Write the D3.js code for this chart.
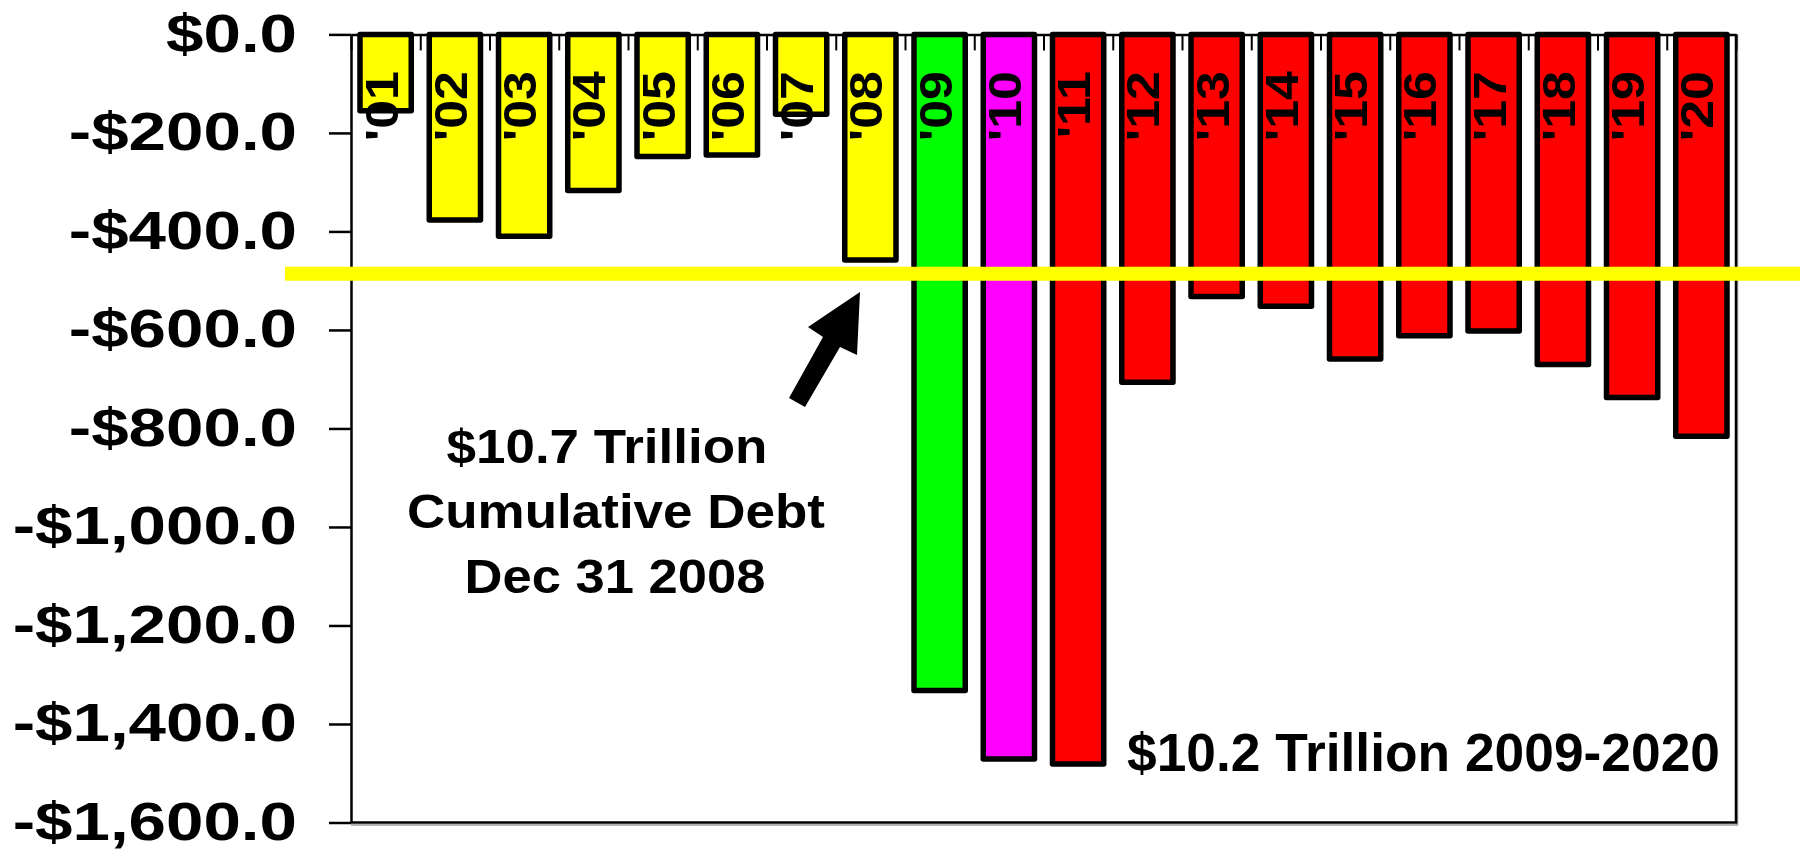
<!DOCTYPE html>
<html>
<head>
<meta charset="utf-8">
<script src="https://cdn.jsdelivr.net/npm/d3@7/dist/d3.min.js"></script>
<style>
  html, body { margin: 0; padding: 0; background: #fff; }
  svg { display: block; }
  text { font-family: "Liberation Sans", Arial, Helvetica, sans-serif; font-weight: bold; fill: #000; }
</style>
</head>
<body>
<svg id="chart" width="1800" height="851"></svg>
<script>
// Yearly increase in federal debt, billions of dollars (negative = added debt)
const years = ["'01", "'02", "'03", "'04", "'05", "'06", "'07", "'08", "'09", "'10",
               "'11", "'12", "'13", "'14", "'15", "'16", "'17", "'18", "'19", "'20"];
const debtIncrease = [-155, -377, -410, -317, -248, -245, -162, -458, -1332, -1471,
                      -1481, -706, -532, -552, -659, -612, -602, -670, -737, -816];
const era = ["pre", "pre", "pre", "pre", "pre", "pre", "pre", "pre", "y2009", "y2010",
             "post", "post", "post", "post", "post", "post", "post", "post", "post", "post"];
const eraNames = ["pre", "y2009", "y2010", "post"];
const eraColors = ["#FFFF00", "#00FF00", "#FF00FF", "#FF0000"];
const yTicks = [0, -200, -400, -600, -800, -1000, -1200, -1400, -1600];
const debtLevelMark = -486;
const noteLines = ["$10.7 Trillion", "Cumulative Debt", "Dec 31 2008"];
const totalNote = "$10.2 Trillion 2009-2020";

const svg = d3.select("#chart");
const plotLeft = 351, plotRight = 1736, plotTop = 34.4, plotBottom = 822.5;

const x = d3.scaleBand().domain(years).range([plotLeft, plotRight]).paddingInner(0.26).paddingOuter(0.13);
const xIdx = d3.scaleLinear().domain([0, years.length]).range([plotLeft, plotRight]);
const y = d3.scaleLinear().domain([0, -1600]).range([plotTop, plotBottom]);
const color = d3.scaleOrdinal().domain(eraNames).range(eraColors);

// frame: right and bottom edges, with a faint grey shadow
svg.append("path")
  .attr("d", `M${plotLeft},${plotBottom + 2.5}H${plotRight + 1.5}V${plotTop}`)
  .attr("fill", "none").attr("stroke", "#9a9a9a").attr("stroke-width", 1.5);
svg.append("path")
  .attr("d", `M${plotLeft},${plotBottom}H${plotRight}V${plotTop}`)
  .attr("fill", "none").attr("stroke", "#000").attr("stroke-width", 2.5);

// y axis
const fmt = v => (v < 0 ? "-" : "") + "$" + d3.format(",.1f")(Math.abs(v));
const yAxis = svg.append("g")
  .attr("transform", `translate(${plotLeft},0)`)
  .call(d3.axisLeft(y).tickValues(yTicks).tickFormat(fmt).tickSize(22).tickSizeOuter(0));
yAxis.select(".domain").attr("stroke-width", 2.5);
yAxis.selectAll(".tick line").attr("stroke-width", 2.5);
yAxis.selectAll(".tick text")
  .attr("x", null).attr("dy", "0.32em")
  .attr("text-anchor", "end")
  .style("font-size", "53px")
  .attr("transform", "translate(-54,0) scale(1.27,1)");

// category axis along the zero line, ticks at band boundaries
const xAxis = svg.append("g")
  .attr("transform", `translate(0,${y(0)})`)
  .call(d3.axisBottom(xIdx).tickValues(d3.range(0, years.length + 1)).tickFormat("").tickSize(16).tickSizeOuter(0));
xAxis.select(".domain").attr("stroke-width", 2.5);
xAxis.selectAll(".tick line").attr("stroke-width", 2);

// bars
svg.append("g").selectAll("rect")
  .data(years)
  .join("rect")
  .attr("x", d => x(d))
  .attr("width", x.bandwidth())
  .attr("y", y(0))
  .attr("height", (d, i) => y(debtIncrease[i]) - y(0))
  .attr("fill", (d, i) => color(era[i]))
  .attr("stroke", "#000")
  .attr("stroke-width", 5.5)
  .attr("stroke-linejoin", "round");

// year labels, rotated inside the bars
svg.append("g").selectAll("text")
  .data(years)
  .join("text")
  .attr("transform", d => `translate(${x(d) + x.bandwidth() / 2 + 12},71) rotate(-90) scale(1.13,1)`)
  .attr("text-anchor", "end")
  .style("font-size", "46px")
  .text(d => d);

// debt level marker line
svg.append("line")
  .attr("x1", 285).attr("x2", 1800)
  .attr("y1", y(debtLevelMark)).attr("y2", y(debtLevelMark))
  .attr("stroke", "#FFFF00").attr("stroke-width", 14);

// arrow pointing at the marker line
svg.append("polygon")
  .attr("points", "860,292 857,355 840,347 805,407 789,398 823,337 808,327")
  .attr("fill", "#000");

// cumulative debt note
const notePos = [[607, 463, 321], [616, 528, 418], [615, 593, 301]];
svg.append("g").selectAll("text")
  .data(noteLines)
  .join("text")
  .attr("x", (d, i) => notePos[i][0])
  .attr("y", (d, i) => notePos[i][1])
  .attr("text-anchor", "middle")
  .attr("textLength", (d, i) => notePos[i][2])
  .attr("lengthAdjust", "spacingAndGlyphs")
  .style("font-size", "49px")
  .text(d => d);

svg.append("text")
  .attr("x", 1127).attr("y", 771)
  .attr("textLength", 593)
  .attr("lengthAdjust", "spacingAndGlyphs")
  .style("font-size", "54px")
  .text(totalNote);
</script>
</body>
</html>
